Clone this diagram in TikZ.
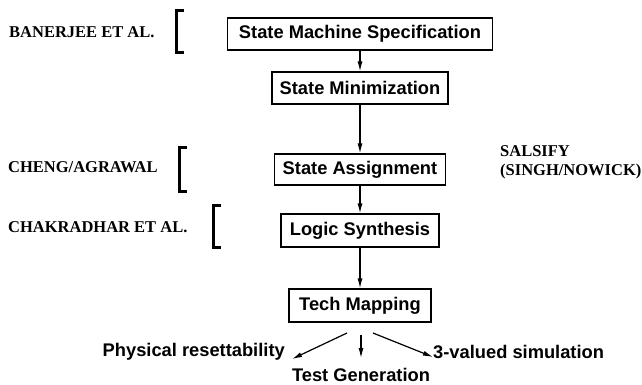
\documentclass[tikz,border=0pt]{standalone}
\usepackage{fontspec}
\setmainfont{Liberation Serif}
\setsansfont{Liberation Sans}
\usetikzlibrary{arrows.meta}
\begin{document}
\begin{tikzpicture}[x=1pt,y=-1pt,
  stagebox/.style={draw=black, line width=1.2pt, inner sep=0pt, align=center,
    font=\sffamily\bfseries\fontsize{18.3}{20}\selectfont},
  outlabel/.style={inner sep=0pt, font=\sffamily\bfseries\fontsize{18.3}{20}\selectfont},
  authorlabel/.style={inner sep=0pt, anchor=west, align=left,
    font=\rmfamily\bfseries\fontsize{16.5}{19}\selectfont},
  flowarrow/.style={line width=1.2pt, -{Latex[length=10pt,width=5pt]}},
  bracketline/.style={line width=2.4pt, line join=miter}
]
\useasboundingbox (0,0) rectangle (642,384);

% stage boxes
\node[stagebox, minimum width=265pt, minimum height=32pt] (spec) at (360,34) {State Machine Specification};
\node[stagebox, minimum width=176pt, minimum height=32pt] (mini) at (360,88) {State Minimization};
\node[stagebox, minimum width=171pt, minimum height=31pt] (assign) at (360,169.5) {State Assignment};
\node[stagebox, minimum width=158pt, minimum height=33pt] (logic) at (360,230.5) {Logic Synthesis};
\node[stagebox, minimum width=142pt, minimum height=33pt] (tech) at (360,305.5) {Tech Mapping};

% flow arrows
\draw[flowarrow] (spec.south) -- (mini.north);
\draw[flowarrow] (mini.south) -- (assign.north);
\draw[flowarrow] (assign.south) -- (logic.north);
\draw[flowarrow] (logic.south) -- (tech.north);

% outputs
\node[outlabel, anchor=east] (phys) at (285,352) {Physical resettability};
\node[outlabel, anchor=west] (sim) at (433,352) {3-valued simulation};
\node[outlabel] (testgen) at (361,375) {Test Generation};

\coordinate (lstart) at (347,333);
\coordinate (lend) at (292,359);
\coordinate (mstart) at (361,335);
\coordinate (mend) at (361,358);
\coordinate (rstart) at (373,333);
\coordinate (rend) at (433,357);
\draw[flowarrow] (lstart) -- (lend);
\draw[flowarrow] (mstart) -- (mend);
\draw[flowarrow] (rstart) -- (rend);

% author labels
\node[authorlabel] (banerjee) at (9,32) {BANERJEE ET AL.};
\node[authorlabel] (cheng) at (8,167) {CHENG/AGRAWAL};
\node[authorlabel] (chak) at (8,227) {CHAKRADHAR ET AL.};
\node[authorlabel] (salsify) at (500,162.5) {SALSIFY\\(SINGH/NOWICK)};

% brackets
\draw[bracketline] (183.5,10.5) -- (176.5,10.5) -- (176.5,52.5) -- (183.5,52.5);
\draw[bracketline] (186.5,147.5) -- (179.5,147.5) -- (179.5,191.5) -- (186.5,191.5);
\draw[bracketline] (220.5,205.5) -- (213.5,205.5) -- (213.5,247.5) -- (220.5,247.5);
\end{tikzpicture}
\end{document}
